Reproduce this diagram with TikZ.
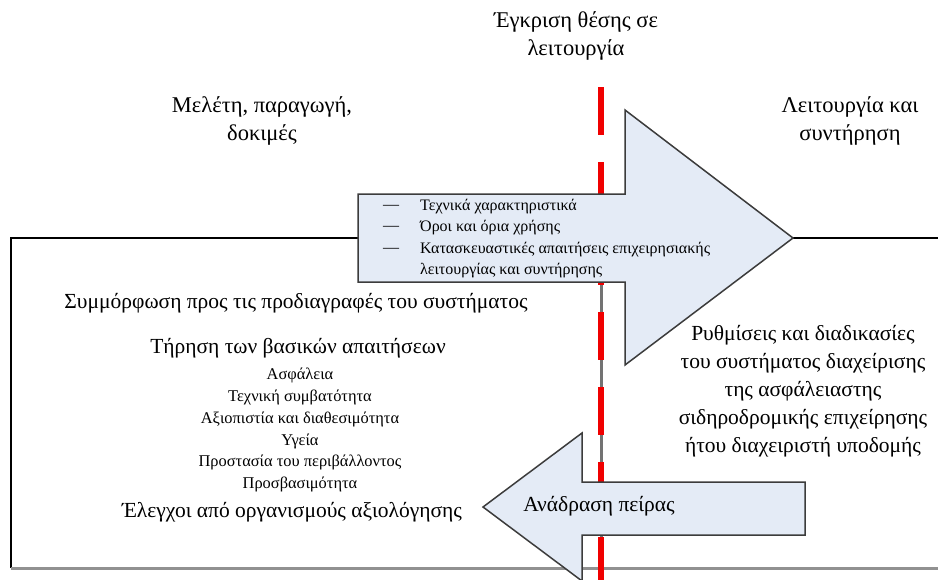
\documentclass[tikz,border=0pt]{standalone}
\usepackage{fontspec}
\setmainfont{Liberation Serif}
\usepackage{tikz}
\usetikzlibrary{positioning}
\definecolor{ArrowFill}{RGB}{228,235,246}
\definecolor{ArrowEdge}{RGB}{60,60,60}
\definecolor{MarkRed}{RGB}{240,0,0}
\definecolor{AxisGray}{RGB}{115,115,115}
\definecolor{BaseGray}{RGB}{145,145,145}
\tikzstyle{bigarrow} = [draw=ArrowEdge, line width=1.5pt, fill=ArrowFill, line join=miter]
\tikzstyle{frameline} = [black, line width=1.5pt]
\tikzstyle{baseline} = [BaseGray, line width=3pt]
\tikzstyle{milestone} = [MarkRed, line width=6pt, dash pattern=on 48pt off 27pt]
\tikzstyle{phaselabel} = [align=center, font=\fontsize{22.5}{28}\selectfont]
\tikzstyle{maintext} = [align=center, font=\fontsize{21.5}{28}\selectfont]
\tikzstyle{subitem} = [font=\fontsize{16.4}{21}\selectfont, inner sep=0pt]
\tikzstyle{bulletitem} = [anchor=west, font=\fontsize{16}{21}\selectfont, inner sep=0pt]

\begin{document}
\begin{tikzpicture}[x=1pt, y=-1pt]
            \useasboundingbox (0,0) rectangle (938,579);
            \clip (0,0) rectangle (938,579);
            \fill[white] (0,0) rectangle (938,579);

            % Frame of the system
            \draw[frameline] (938,238) -- (11,238) -- (11,568);
            \draw[baseline] (11,568) -- (938,568);
            \draw[AxisGray, line width=3pt] (601,282) -- (601,568);
            \draw[milestone] (601,87) -- (601,600);

            % Forward arrow
            \draw[bigarrow] (358,194) -- (625,194) -- (625,110) -- (793,238) -- (625,365) -- (625,282) -- (358,282) -- cycle;
            \node[bulletitem] (dash1) at (383,207) {—};
            \node[bulletitem] (item1) at (420,207) {Τεχνικά χαρακτηριστικά};
            \node[bulletitem] (dash2) at (383,228) {—};
            \node[bulletitem] (item2) at (420,228) {Όροι και όρια χρήσης};
            \node[bulletitem] (dash3) at (383,250) {—};
            \node[bulletitem] (item3) at (420,250) {Κατασκευαστικές απαιτήσεις επιχειρησιακής};
            \node[bulletitem] (item4) at (420,271) {λειτουργίας και συντήρησης};

            % Feedback arrow
            \draw[bigarrow] (805,482) -- (582,482) -- (582,433) -- (483,507) -- (582,581) -- (582,535) -- (805,535) -- cycle;
            \node[maintext] (feedback) at (599,506) {Ανάδραση πείρας};

            % Phases
            \node[phaselabel] (approval) at (576,36) {Έγκριση θέσης σε\\λειτουργία};
            \node[phaselabel] (design) at (262,121) {Μελέτη, παραγωγή,\\δοκιμές};
            \node[phaselabel] (operation) at (850,121) {Λειτουργία και\\συντήρηση};

            % Left block
            \node[maintext] (conform) at (296,303) {Συμμόρφωση προς τις προδιαγραφές του συστήματος};
            \node[maintext] (essential) at (298,348) {Τήρηση των βασικών απαιτήσεων};
            \node[subitem] (safety) at (300,375) {Ασφάλεια};
            \node[subitem] (compat) at (300,397) {Τεχνική συμβατότητα};
            \node[subitem] (reliab) at (300,419) {Αξιοπιστία και διαθεσιμότητα};
            \node[subitem] (health) at (300,441) {Υγεία};
            \node[subitem] (environ) at (300,462) {Προστασία του περιβάλλοντος};
            \node[subitem] (access) at (300,484) {Προσβασιμότητα};
            \node[maintext] (checks) at (292,512) {Έλεγχοι από οργανισμούς αξιολόγησης};

            % Right block
            \node[maintext] (sms) at (803,391) {Ρυθμίσεις και διαδικασίες\\του συστήματος διαχείρισης\\της ασφάλειαστης\\σιδηροδρομικής επιχείρησης\\ήτου διαχειριστή υποδομής};
        \end{tikzpicture}
\end{document}
